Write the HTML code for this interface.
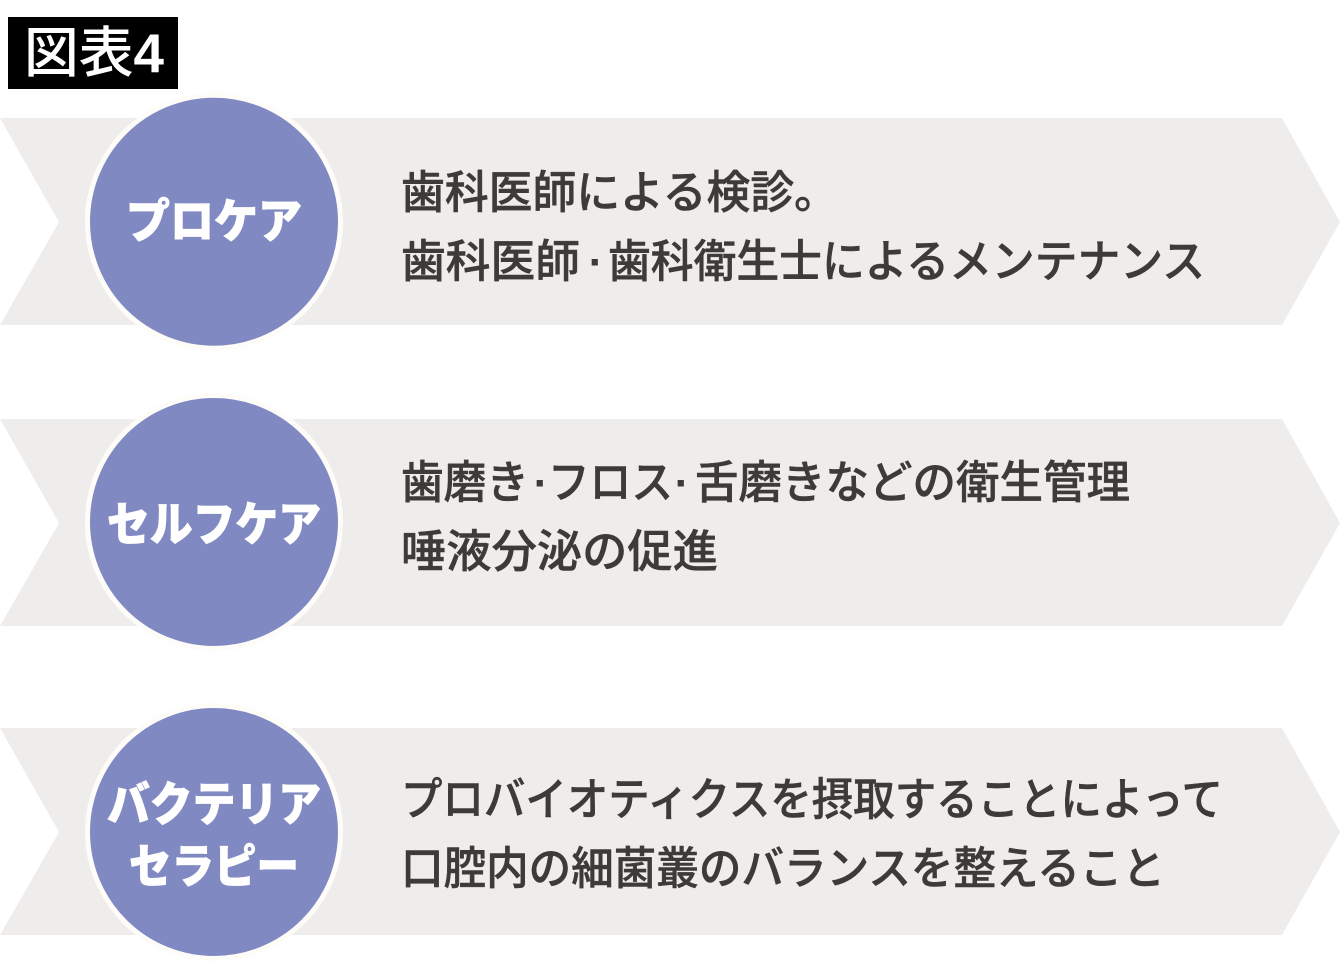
<!DOCTYPE html>
<html lang="ja"><head><meta charset="utf-8"><style>
html,body{margin:0;padding:0;background:#fff}
svg{display:block}
text{font-family:"Liberation Sans","Noto Sans CJK JP",sans-serif}
.t{font-size:45px;fill:#3e3a39;font-weight:500;stroke:#3e3a39;stroke-width:.5px}
.d{font-size:44px;fill:#3e3a39;font-weight:700;text-anchor:middle}
.c{font-size:47px;fill:#fff;font-weight:900;text-anchor:middle;stroke:#fff;stroke-width:.8px}
</style></head><body>
<svg width="1340" height="961" viewBox="0 0 1340 961" xmlns="http://www.w3.org/2000/svg">
<rect width="1340" height="961" fill="#fff"/>
<rect x="8" y="17" width="170" height="72" fill="#000"/>
<text x="24" y="72" font-size="55" fill="#fff" font-weight="500" textLength="140" lengthAdjust="spacingAndGlyphs">図表<tspan font-weight="700">4</tspan></text>
<g fill="#efedec">
<polygon points="0,118 1282,118 1340,222 1282,325 0,325 59,222"/>
<polygon points="0,419 1282,419 1340,523 1282,626 0,626 59,523"/>
<polygon points="0,728 1282,728 1340,832 1282,935 0,935 59,832"/>
</g>
<g fill="#8089c1" stroke="#fdfcf9" stroke-width="5">
<circle cx="214" cy="221.700" r="126.500"/>
<circle cx="214" cy="522" r="126.500"/>
<circle cx="214" cy="832" r="126.500"/>
</g>
<text class="c" x="214" y="238" textLength="176" lengthAdjust="spacingAndGlyphs">プロケア</text>
<text class="c" x="214" y="541" textLength="214" lengthAdjust="spacingAndGlyphs">セルフケア</text>
<text class="c" x="214" y="821" textLength="214" lengthAdjust="spacingAndGlyphs">バクテリア</text>
<text class="c" x="214" y="883" textLength="170" lengthAdjust="spacingAndGlyphs">セラピー</text>

<text class="t" x="401" y="208" textLength="437" lengthAdjust="spacingAndGlyphs">歯科医師による検診。</text>

<text class="t" x="401" y="277" textLength="179" lengthAdjust="spacingAndGlyphs">歯科医師</text>
<text class="d" x="596" y="277">·</text>
<text class="t" x="608" y="277" textLength="597" lengthAdjust="spacingAndGlyphs">歯科衛生士によるメンテナンス</text>

<text class="t" x="401" y="498" textLength="128" lengthAdjust="spacingAndGlyphs">歯磨き</text>
<text class="d" x="541" y="498">·</text>
<text class="t" x="548" y="498" textLength="125" lengthAdjust="spacingAndGlyphs">フロス</text>
<text class="d" x="682" y="498">·</text>
<text class="t" x="695" y="498" textLength="435" lengthAdjust="spacingAndGlyphs">舌磨きなどの衛生管理</text>

<text class="t" x="401" y="567" textLength="317" lengthAdjust="spacingAndGlyphs">唾液分泌の促進</text>
<text class="t" x="401" y="815" textLength="822" lengthAdjust="spacingAndGlyphs">プロバイオティクスを摂取することによって</text>
<text class="t" x="401" y="884" textLength="764" lengthAdjust="spacingAndGlyphs">口腔内の細菌叢のバランスを整えること</text>
</svg>
</body></html>
